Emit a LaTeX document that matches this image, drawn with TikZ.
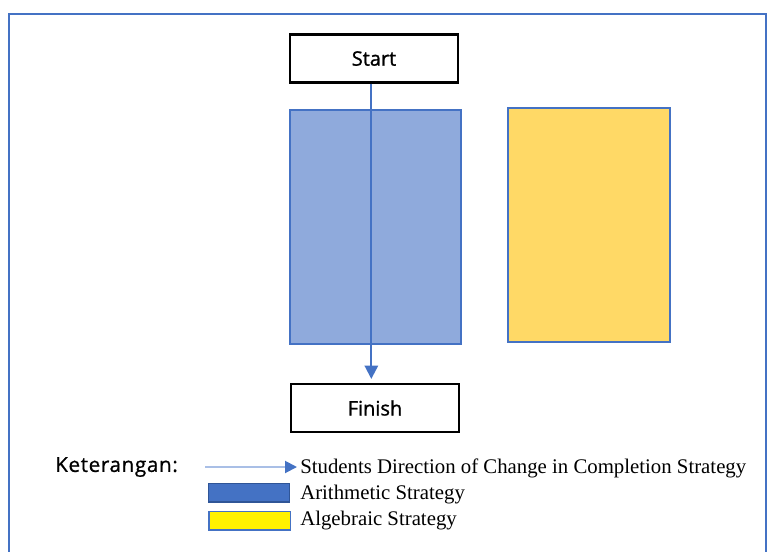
\documentclass[tikz,border=0pt]{standalone}
\usepackage{fontspec}
\setmainfont{Liberation Serif}
\newfontfamily\labelfont[FakeBold=1.2]{Open Sans}
\newfontfamily\ketfont[FakeBold=0.8, LetterSpace=3]{Open Sans}
\usetikzlibrary{positioning}
\usetikzlibrary{arrows.meta}
\definecolor{arithblue}{HTML}{8FAADC}
\definecolor{edgeblue}{HTML}{4472C4}
\definecolor{darkblue}{HTML}{2F5597}
\definecolor{algyellow}{HTML}{FFD966}
\definecolor{lightline}{HTML}{A9BFE6}

\begin{document}
\begin{tikzpicture}[
		x=0.75pt, y=-0.75pt,
		% Style definitions
		endbox/.style={draw, line width=1.6pt, minimum width=126pt, minimum height=36pt, fill=white, font=\labelfont\fontsize{15}{17}\selectfont},
		stratbox/.style={draw=edgeblue, line width=1.4pt, minimum width=128pt, minimum height=176pt},
		swatch/.style={draw=darkblue, line width=1pt, minimum width=61pt, minimum height=14pt, inner sep=0pt},
		legtext/.style={anchor=west, inner sep=0pt, font=\fontsize{15.6}{17}\selectfont},
		arrow/.style={-{Triangle[length=10pt, width=10pt]}, edgeblue, line width=1.5pt},
		]
		% Frame and page size
		\useasboundingbox (0,0) rectangle (769,551);
		\fill[white] (0,0) rectangle (769,551);
		\draw[edgeblue, line width=1.5pt] (9,560) |- (766,14) -- (766,560);

		% Main diagram
		\node[endbox] (start) at (374,58.5) {Start};
		\node[stratbox, fill=arithblue] (arith) at (375.5,227) {};
		\node[stratbox, fill=algyellow, minimum width=122pt] (alg) at (589,225) {};
		\node[endbox] (finish) at (375,408) {Finish};

		% Direction of change
		\draw[arrow, shorten >=3pt] ([xshift=-2pt]start.south) -- ([xshift=-2pt]start.south |- finish.north);

		% Legend
		\node[anchor=west, inner sep=0pt, font=\ketfont\fontsize{15.5}{17}\selectfont] (keter) at (55,467) {Keterangan:};
		\coordinate (legfrom) at (205,467);
		\coordinate (legto) at (297,467);
		\draw[lightline, line width=1.5pt, -{Triangle[length=9pt, width=9pt, color=edgeblue]}] (legfrom) -- (legto);
		\node[legtext] (dirtext) at (300,468) {Students Direction of Change in Completion Strategy};
		\node[swatch, fill=edgeblue] (blueswatch) at (249,492.5) {};
		\node[legtext] (arithtext) at (300,495) {Arithmetic Strategy};
		\node[swatch, fill=yellow, draw=edgeblue] (yellowswatch) at (249.5,520.5) {};
		\node[legtext] (algtext) at (300,521) {Algebraic Strategy};

	\end{tikzpicture}
\end{document}
